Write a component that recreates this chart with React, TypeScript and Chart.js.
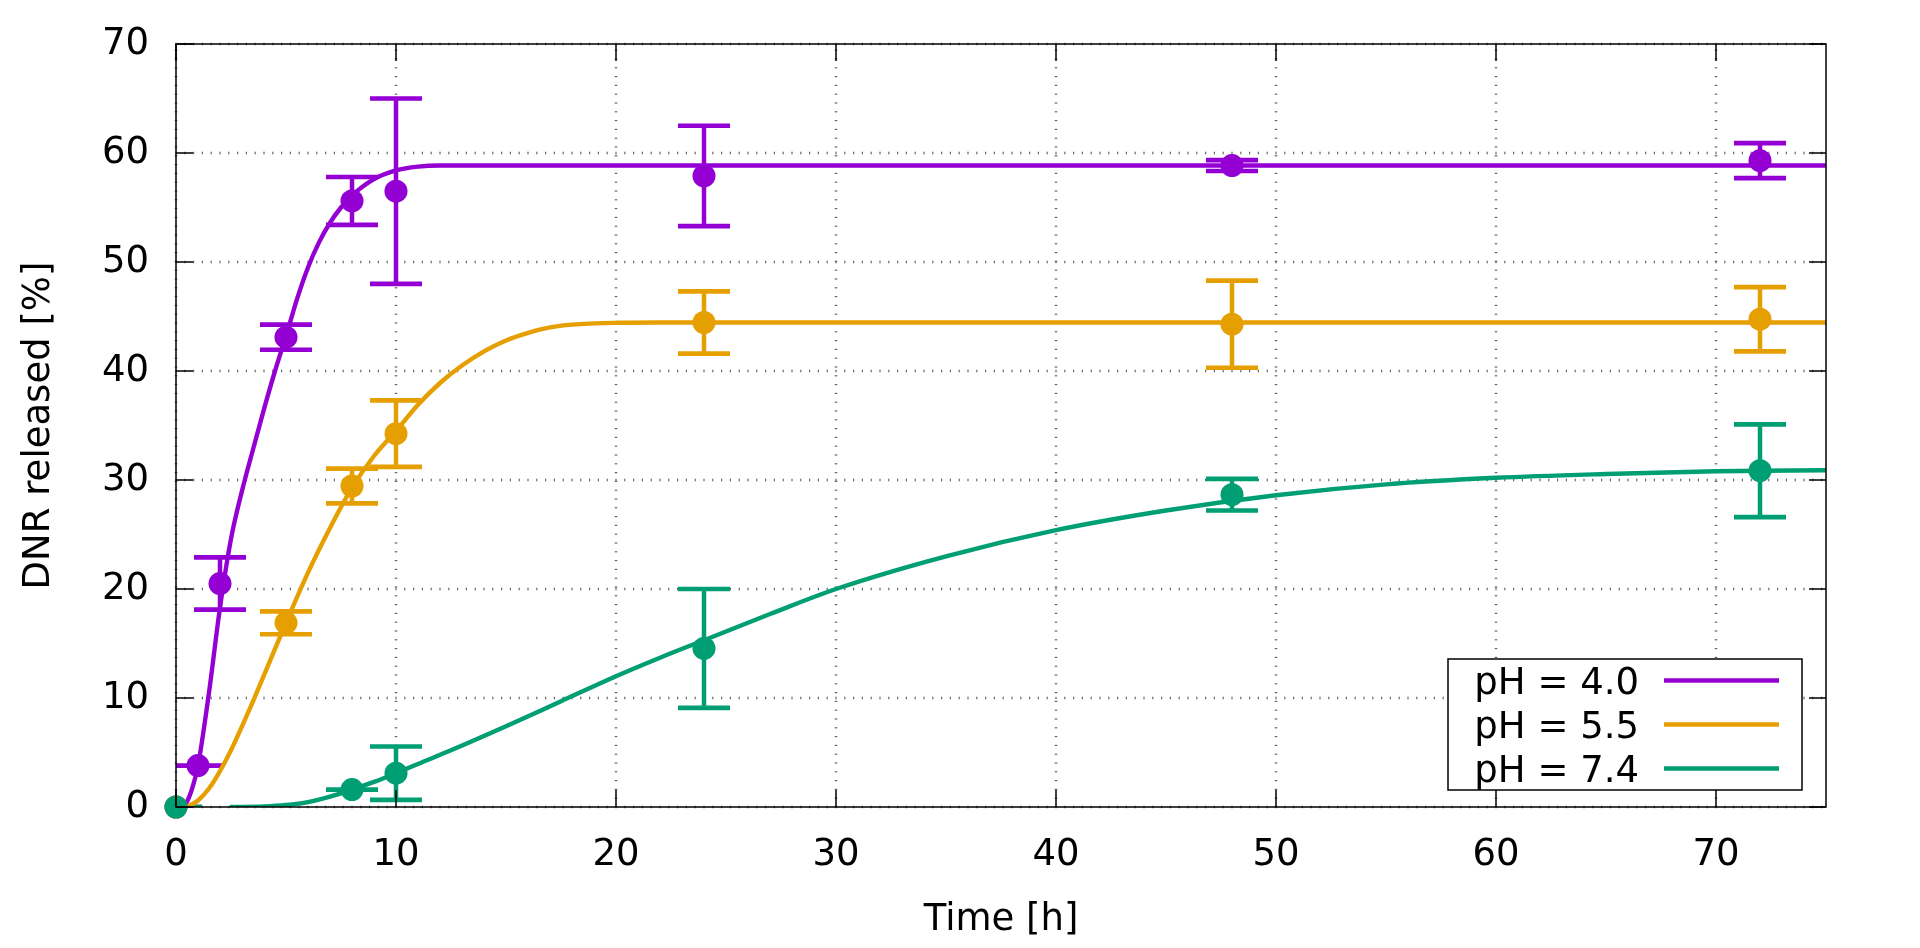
import React, { useEffect, useRef } from 'react';
import { Chart, Plugin, registerables } from 'chart.js';

Chart.register(...registerables);

// measured release, mean and error per sampling time [h]
const times40 = [0, 1, 2, 5, 8, 10, 24, 48, 72];
const release40 = [0, 3.8, 20.5, 43.1, 55.6, 56.5, 57.9, 58.85, 59.3];
const error40 = [0, 0, 2.4, 1.15, 2.2, 8.5, 4.6, 0.5, 1.6];

const times55 = [0, 5, 8, 10, 24, 48, 72];
const release55 = [0, 16.9, 29.45, 34.25, 44.45, 44.3, 44.75];
const error55 = [0, 1.05, 1.6, 3.05, 2.85, 4.0, 2.95];

const times74 = [0, 8, 10, 24, 48, 72];
const release74 = [0, 1.6, 3.1, 14.55, 28.65, 30.85];
const error74 = [0, 0, 2.45, 5.45, 1.45, 4.25];

// fitted release curves
const fitTime40 = [0.25, 0.5, 0.75, 1, 1.5, 2, 2.5, 3, 3.5, 4, 4.5, 5, 5.5, 6, 6.5, 7, 7.5, 8, 9, 10, 11, 12, 75];
const fitRelease40 = [0, 0.5, 1.8, 3.8, 10.5, 18.3, 24.6, 29, 32.8, 36.5, 40, 43.2, 46.6, 49.5, 51.8, 53.6, 55.0, 56.1, 57.6, 58.4, 58.75, 58.85, 58.85];

const fitTime55 = [0.5, 1, 1.5, 2, 2.5, 3, 3.5, 4, 4.5, 5, 6, 7, 8, 9, 10, 11, 12, 13, 14, 15, 16, 17, 18, 20, 22, 75];
const fitRelease55 = [0, 0.6, 1.7, 3.3, 5.2, 7.4, 9.7, 12.1, 14.5, 16.9, 21.5, 25.6, 29.3, 32.2, 34.5, 36.9, 38.9, 40.5, 41.8, 42.8, 43.5, 44.0, 44.25, 44.42, 44.45, 44.45];

const fitTime74 = [2.45, 4, 5, 6, 7, 8, 9, 10, 11, 12.5, 15, 17.5, 20, 22, 24, 27, 30, 35, 40, 45, 50, 55, 60, 65, 70, 75];
const fitRelease74 = [0, 0.05, 0.18, 0.45, 0.95, 1.6, 2.3, 3.1, 3.95, 5.2, 7.4, 9.7, 12.0, 13.7, 15.3, 17.7, 20.0, 23.0, 25.4, 27.2, 28.6, 29.6, 30.2, 30.55, 30.8, 30.9];

const seriesLabels = ['pH = 4.0', 'pH = 5.5', 'pH = 7.4'];
const seriesColors = ['#9400d3', '#e69f00', '#009e73'];

const xTicks = [0, 10, 20, 30, 40, 50, 60, 70];
const yTicks = [0, 10, 20, 30, 40, 50, 60, 70];

const measured = [
    { t: times40, y: release40, e: error40 },
    { t: times55, y: release55, e: error55 },
    { t: times74, y: release74, e: error74 },
];
const fits = [
    { t: fitTime40, y: fitRelease40 },
    { t: fitTime55, y: fitRelease55 },
    { t: fitTime74, y: fitRelease74 },
];

const FONT = { family: "'DejaVu Sans', sans-serif", size: 37 };

const gnuplotLook: Plugin<'scatter'> = {
    id: 'gnuplotLook',
    beforeDatasetsDraw(chart) {
        const { ctx, chartArea: a, scales } = chart;
        const xs = scales.x;
        const ys = scales.y;
        ctx.save();
        // dotted grid
        ctx.fillStyle = '#666';
        const step = 8.8;
        yTicks.forEach((v) => {
            const py = ys.getPixelForValue(v);
            for (let px = a.left; px <= a.right; px += step) ctx.fillRect(px - 0.6, py - 1.3, 1.2, 2.6);
        });
        xTicks.forEach((v) => {
            const px = xs.getPixelForValue(v);
            for (let py = a.bottom; py >= a.top; py -= step) ctx.fillRect(px - 1.3, py - 0.6, 2.6, 1.2);
        });
        // error bars
        ctx.beginPath();
        ctx.rect(a.left, a.top, a.right - a.left, a.bottom - a.top);
        ctx.clip();
        ctx.lineCap = 'butt';
        measured.forEach((s, k) => {
            ctx.strokeStyle = seriesColors[k];
            s.t.forEach((t, i) => {
                const px = xs.getPixelForValue(t);
                const lo = ys.getPixelForValue(s.y[i] - s.e[i]);
                const hi = ys.getPixelForValue(s.y[i] + s.e[i]);
                ctx.lineWidth = 4.5;
                ctx.beginPath();
                ctx.moveTo(px, lo);
                ctx.lineTo(px, hi);
                ctx.stroke();
                ctx.lineWidth = 4.7;
                ctx.beginPath();
                ctx.moveTo(px - 26, lo);
                ctx.lineTo(px + 26, lo);
                ctx.moveTo(px - 26, hi);
                ctx.lineTo(px + 26, hi);
                ctx.stroke();
            });
        });
        ctx.restore();
    },
    afterDatasetsDraw(chart) {
        const { ctx, chartArea: a, scales } = chart;
        const xs = scales.x;
        const ys = scales.y;
        ctx.save();
        ctx.strokeStyle = '#000';
        ctx.lineWidth = 1.5;
        ctx.strokeRect(a.left, a.top, a.right - a.left, a.bottom - a.top);
        const tl = 17;
        ctx.beginPath();
        xTicks.forEach((v) => {
            const px = xs.getPixelForValue(v);
            ctx.moveTo(px, a.bottom);
            ctx.lineTo(px, a.bottom - tl);
            ctx.moveTo(px, a.top);
            ctx.lineTo(px, a.top + tl);
        });
        yTicks.forEach((v) => {
            const py = ys.getPixelForValue(v);
            ctx.moveTo(a.left, py);
            ctx.lineTo(a.left + tl, py);
            ctx.moveTo(a.right, py);
            ctx.lineTo(a.right - tl, py);
        });
        ctx.stroke();

        // key box
        const w = 354;
        const h = 131;
        const left = a.right - 24 - w;
        const top = a.bottom - 17 - h;
        ctx.fillStyle = '#fff';
        ctx.fillRect(left, top, w, h);
        ctx.strokeRect(left, top, w, h);
        ctx.font = `${FONT.size}px ${FONT.family}`;
        ctx.textAlign = 'right';
        ctx.textBaseline = 'alphabetic';
        seriesLabels.forEach((label, k) => {
            const rowY = top + 21.5 + 44 * k;
            ctx.fillStyle = '#000';
            ctx.fillText(label, left + 191, rowY + 13);
            ctx.strokeStyle = seriesColors[k];
            ctx.lineWidth = 4.5;
            ctx.beginPath();
            ctx.moveTo(left + 216, rowY);
            ctx.lineTo(left + 331, rowY);
            ctx.stroke();
        });
        ctx.restore();
    },
};

const ReleaseChart: React.FC = () => {
    const canvasRef = useRef<HTMLCanvasElement | null>(null);

    useEffect(() => {
        if (!canvasRef.current) return;
        const datasets: any[] = [];
        // draw order: lower order ends up on top
        [0, 1, 2].forEach((k) => {
            const base = (2 - k) * 2;
            datasets.push({
                label: seriesLabels[k] + ' fit',
                data: fits[k].t.map((t, i) => ({ x: t, y: fits[k].y[i] })),
                showLine: true,
                pointRadius: 0,
                borderColor: seriesColors[k],
                borderWidth: 4.4,
                cubicInterpolationMode: 'monotone',
                clip: 0,
                order: base + 1,
            });
            datasets.push({
                label: seriesLabels[k],
                data: measured[k].t.map((t, i) => ({ x: t, y: measured[k].y[i] })),
                showLine: false,
                pointRadius: 11.5,
                pointBackgroundColor: seriesColors[k],
                pointBorderWidth: 0,
                clip: false,
                order: base,
            });
        });

        const chart = new Chart(canvasRef.current, {
            type: 'scatter',
            data: { datasets },
            options: {
                animation: false,
                responsive: true,
                maintainAspectRatio: false,
                events: [],
                layout: { padding: { left: 0, top: 44, right: 94, bottom: 0 } },
                plugins: { legend: { display: false }, tooltip: { enabled: false } },
                scales: {
                    x: {
                        type: 'linear',
                        min: 0,
                        max: 75,
                        afterBuildTicks: (s: any) => {
                            s.ticks = xTicks.map((v) => ({ value: v }));
                        },
                        afterFit: (s: any) => {
                            s.height = 141;
                        },
                        ticks: { font: FONT, color: '#000', padding: 26, maxRotation: 0, autoSkip: false },
                        grid: { display: false, drawTicks: false },
                        border: { display: false },
                        title: { display: true, text: 'Time [h]', font: FONT, color: '#000', padding: { top: 0, bottom: 5 } },
                    },
                    y: {
                        type: 'linear',
                        min: 0,
                        max: 70,
                        afterBuildTicks: (s: any) => {
                            s.ticks = yTicks.map((v) => ({ value: v }));
                        },
                        afterFit: (s: any) => {
                            s.width = 176;
                            s.paddingTop = 0;
                            s.paddingBottom = 0;
                        },
                        ticks: { font: FONT, color: '#000', padding: 27 },
                        grid: { display: false, drawTicks: false },
                        border: { display: false },
                        title: { display: true, text: 'DNR released [%]', font: FONT, color: '#000', padding: { top: 17, bottom: 0 } },
                    },
                },
            },
            plugins: [gnuplotLook],
        });

        return () => {
            chart.destroy();
        };
    }, []);

    return <canvas ref={canvasRef} />;
};

const App: React.FC = () => (
    <div style={{ position: 'absolute', left: 0, top: 0, width: 1920, height: 948, background: '#fff' }}>
        <ReleaseChart />
    </div>
);

export default App;
